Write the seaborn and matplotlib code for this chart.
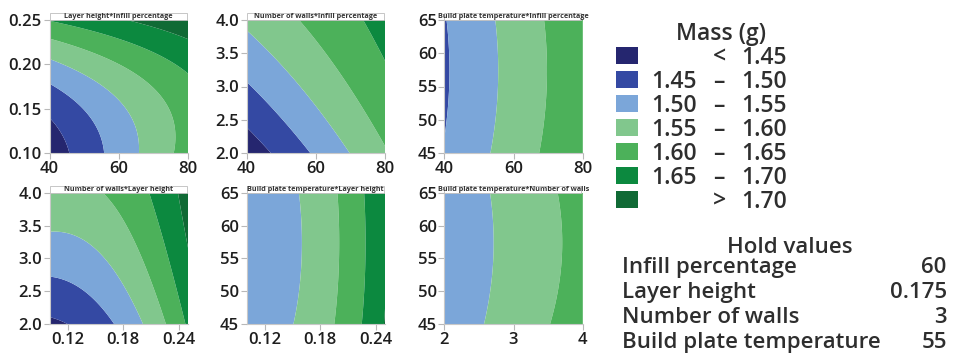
import numpy as np
import matplotlib
matplotlib.use("Agg")
import matplotlib.pyplot as plt
import seaborn as sns
from matplotlib.patches import Rectangle

# ---------------- data ----------------
factor_names = ["Infill percentage", "Layer height", "Number of walls", "Build plate temperature"]
factor_low = [40, 0.10, 2, 45]
factor_high = [80, 0.25, 4, 65]
hold_values = [60, 0.175, 3, 55]
hold_labels = ["60", "0.175", "3", "55"]

# fitted quadratic response-surface model (coded units) for Mass (g)
intercept = 1.566
linear_coef = [0.071, 0.087, 0.053, -0.0025]
square_coef = [0.0, 0.042, -0.006, 0.0052]
interaction_pairs = [(0, 1), (0, 2), (0, 3), (1, 2), (1, 3), (2, 3)]
interaction_coef = [-0.0285, -0.017, 0.0, -0.021, 0.0, 0.0]

mass_levels = [1.45, 1.50, 1.55, 1.60, 1.65, 1.70]
mass_colors = ["#25266f", "#3449a3", "#7ba6d9", "#81c78d", "#4cb15a", "#0c893f", "#106a35"]
legend_left = ["", "1.45", "1.50", "1.55", "1.60", "1.65", ""]
legend_mid = ["<", "–", "–", "–", "–", "–", ">"]
legend_right = ["1.45", "1.50", "1.55", "1.60", "1.65", "1.70", "1.70"]

# panels: (x factor, y factor)
panels = [(0, 1), (0, 2), (0, 3), (1, 2), (1, 3), (2, 3)]
x_tick_values = {0: [40, 60, 80], 1: [0.12, 0.18, 0.24], 2: [2, 3, 4]}
x_tick_labels = {0: ["40", "60", "80"], 1: ["0.12", "0.18", "0.24"], 2: ["2", "3", "4"]}
y_tick_values = {1: [0.10, 0.15, 0.20, 0.25], 2: [2.0, 2.5, 3.0, 3.5, 4.0], 3: [45, 50, 55, 60, 65]}
y_tick_labels = {1: ["0.10", "0.15", "0.20", "0.25"], 2: ["2.0", "2.5", "3.0", "3.5", "4.0"],
                 3: ["45", "50", "55", "60", "65"]}

# ---------------- style ----------------
sns.set_theme(style="white")
plt.rcParams['font.family'] = ['Open Sans', 'DejaVu Sans']

W, H = 960, 355
fig = plt.figure(figsize=(W / 100, H / 100), dpi=100)


def fx(x):
    return x / W


def fy(y):
    return 1 - y / H


def model(coded):
    z = intercept
    for i in range(4):
        z = z + linear_coef[i] * coded[i] + square_coef[i] * coded[i] ** 2
    for (i, j), b in zip(interaction_pairs, interaction_coef):
        z = z + b * coded[i] * coded[j]
    return z


col_left = [49.5, 246.5, 444.3]
col_w = 138.5
row_top = [20, 192.7]
row_h = [133, 131.3]

levels = [0.0] + mass_levels + [10.0]
tick_col = "#1e1e1e"

for k, (xi, yi) in enumerate(panels):
    r, c = divmod(k, 3)
    left = col_left[c]
    top = row_top[r]
    h = row_h[r]
    ax = fig.add_axes([fx(left), fy(top + h), col_w / W, h / H])
    xs = np.linspace(factor_low[xi], factor_high[xi], 240)
    ys = np.linspace(factor_low[yi], factor_high[yi], 240)
    X, Y = np.meshgrid(xs, ys)
    coded = []
    for f in range(4):
        half = (factor_high[f] - factor_low[f]) / 2
        if f == xi:
            coded.append((X - hold_values[f]) / half)
        elif f == yi:
            coded.append((Y - hold_values[f]) / half)
        else:
            coded.append(np.zeros_like(X))
    Z = model(coded)
    ax.contourf(X, Y, Z, levels=levels, colors=mass_colors, antialiased=True)
    ax.set_xlim(factor_low[xi], factor_high[xi])
    ax.set_ylim(factor_low[yi], factor_high[yi])
    ax.set_xticks(x_tick_values[xi])
    ax.set_xticklabels(x_tick_labels[xi])
    ax.set_yticks(y_tick_values[yi])
    ax.set_yticklabels(y_tick_labels[yi])
    ax.tick_params(axis="both", which="major", length=4, width=0.8, color="#b8b8b8",
                   labelsize=12, labelcolor=tick_col, pad=1.5, direction="out",
                   bottom=True, left=True)
    for lab in ax.get_xticklabels() + ax.get_yticklabels():
        lab.set_fontweight("semibold")
    for s in ["top", "right"]:
        ax.spines[s].set_visible(False)
    for s in ["left", "bottom"]:
        ax.spines[s].set_color("#c8c8c8")
        ax.spines[s].set_linewidth(0.8)
    # title strip
    strip_h = 6.5 / h
    ax.add_patch(Rectangle((0, 1.0), 0.99, strip_h, transform=ax.transAxes, facecolor="white",
                           edgecolor="#bdbdbd", linewidth=0.6, clip_on=False, zorder=5))
    ax.text(0.5, 1.0 + strip_h / 2, f"{factor_names[yi]}*{factor_names[xi]}", transform=ax.transAxes,
            ha="center", va="center", fontsize=5.2, fontweight="bold", color="#333333", zorder=6,
            clip_on=False)

# ---------------- legend ----------------
txt_col = "#2e2e2e"
lw = "semibold"
fig.text(fx(721), fy(40), "Mass (g)", ha="center", va="baseline", fontsize=16.5, color=txt_col, fontweight=lw)
for i in range(7):
    base = 64 + 24 * i
    fig.patches.append(Rectangle((fx(616), fy(base)), 22 / W, 17 / H, transform=fig.transFigure,
                                 facecolor=mass_colors[i], edgecolor="none", figure=fig))
    if legend_left[i]:
        fig.text(fx(697), fy(base), legend_left[i], ha="right", va="baseline", fontsize=16.5,
                 color=txt_col, fontweight=lw)
    fig.text(fx(719), fy(base), legend_mid[i], ha="center", va="baseline", fontsize=16.5,
             color=txt_col, fontweight=lw)
    fig.text(fx(787), fy(base), legend_right[i], ha="right", va="baseline", fontsize=16.5,
             color=txt_col, fontweight=lw)

fig.text(fx(790), fy(253), "Hold values", ha="center", va="baseline", fontsize=16, color=txt_col, fontweight=lw)
for i in range(4):
    base = 273 + 25 * i
    fig.text(fx(621.7), fy(base), factor_names[i], ha="left", va="baseline", fontsize=16,
             color=txt_col, fontweight=lw)
    fig.text(fx(946.7), fy(base), hold_labels[i], ha="right", va="baseline", fontsize=16,
             color=txt_col, fontweight=lw)

fig.savefig("out.png", dpi=100, facecolor="white")
